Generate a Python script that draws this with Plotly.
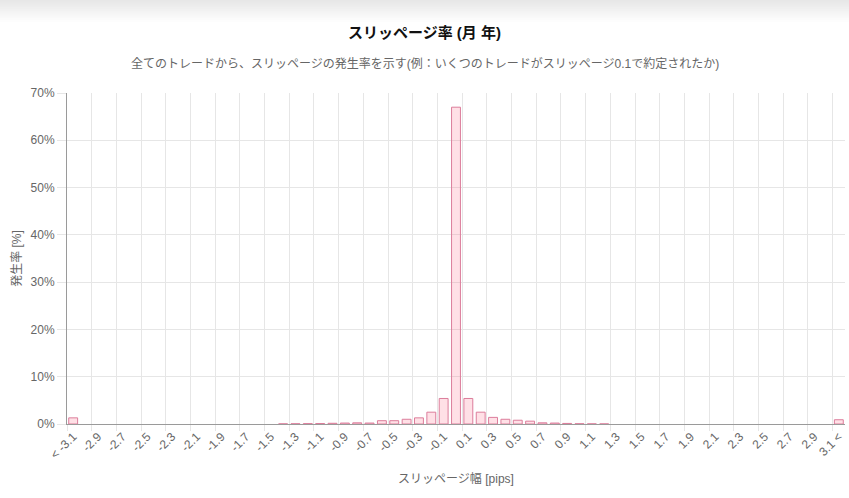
import plotly.graph_objects as go

# カテゴリ（スリッページ幅）
labels = [
    "< -3.1", "-3", "-2.9", "-2.8", "-2.7", "-2.6", "-2.5", "-2.4", "-2.3", "-2.2",
    "-2.1", "-2", "-1.9", "-1.8", "-1.7", "-1.6", "-1.5", "-1.4", "-1.3", "-1.2",
    "-1.1", "-1", "-0.9", "-0.8", "-0.7", "-0.6", "-0.5", "-0.4", "-0.3", "-0.2",
    "-0.1", "0", "0.1", "0.2", "0.3", "0.4", "0.5", "0.6", "0.7", "0.8",
    "0.9", "1", "1.1", "1.2", "1.3", "1.4", "1.5", "1.6", "1.7", "1.8",
    "1.9", "2", "2.1", "2.2", "2.3", "2.4", "2.5", "2.6", "2.7", "2.8",
    "2.9", "3", "3.1 <",
]

# 発生率 [%]
rates = [
    1.3, 0, 0, 0, 0, 0, 0, 0, 0, 0,
    0, 0, 0, 0, 0, 0, 0, 0.03, 0.05, 0.08,
    0.1, 0.15, 0.2, 0.25, 0.2, 0.7, 0.7, 1.0, 1.3, 2.5,
    5.4, 67.0, 5.4, 2.5, 1.4, 1.0, 0.8, 0.6, 0.25, 0.2,
    0.12, 0.06, 0.03, 0.02, 0, 0, 0, 0, 0, 0,
    0, 0, 0, 0, 0, 0, 0, 0, 0, 0,
    0, 0, 0.9,
]

y_ticks = [0, 10, 20, 30, 40, 50, 60, 70]
y_ticktext = [f"{v}%" for v in y_ticks]

W, H = 849, 498
M_L, M_R, M_T, M_B = 67, 4, 93, 74
FONT = "Liberation Sans, Noto Sans CJK JP"
GRID = "#e6e6e6"
TXT = "#666666"

x = list(range(len(labels)))
shown = x[::2]

# 0%のバーは枠線も描かない
fig = go.Figure(go.Bar(
    x=x,
    y=[v if v else None for v in rates],
    marker=dict(color="rgba(255,99,132,0.2)",
                line=dict(color="rgb(220,125,155)", width=1)),
    hoverinfo="skip",
))

# ピクセル -> paper座標
plot_h = H - M_T - M_B
plot_w = W - M_L - M_R
def py(px):
    return 1 + (M_T - px) / plot_h
def pxx(px):
    return (px - M_L) / plot_w

# 上部の薄いグラデーション
shapes = []
bands = 12
for k in range(bands):
    shapes.append(dict(
        type="rect", xref="paper", yref="paper",
        x0=pxx(0), x1=pxx(W),
        y0=py(22 * (k + 1) / bands), y1=py(0),
        fillcolor="rgba(0,0,0,0.0075)", line_width=0, layer="below",
    ))

fig.update_layout(
    width=W, height=H,
    margin=dict(l=M_L, r=M_R, t=M_T, b=M_B),
    paper_bgcolor="white", plot_bgcolor="white",
    font=dict(family=FONT, size=12, color=TXT),
    showlegend=False,
    bargap=0.28,
    shapes=shapes,
    annotations=[
        dict(text="<b>スリッページ率 (月 年)</b>", xref="paper", yref="paper",
             x=pxx(W / 2), y=py(33), xanchor="center", yanchor="middle",
             showarrow=False, font=dict(size=15, color="#111111", family=FONT)),
        dict(text="全てのトレードから、スリッページの発生率を示す(例：いくつのトレードがスリッページ0.1で約定されたか)",
             xref="paper", yref="paper", x=pxx(W / 2), y=py(64),
             xanchor="center", yanchor="middle", showarrow=False,
             font=dict(size=12, color=TXT, family=FONT)),
    ],
    xaxis=dict(
        range=[-0.5, len(labels) - 0.5],
        tickmode="array", tickvals=shown, ticktext=[labels[i] for i in shown],
        tickangle=-45, ticks="", showgrid=False,
        showline=True, linecolor="#9a9a9a", linewidth=1,
        minor=dict(tickmode="linear", tick0=-0.5, dtick=2, showgrid=True,
                   gridcolor=GRID, gridwidth=1, ticks="outside",
                   ticklen=6, tickcolor=GRID),
        title=dict(text="スリッページ幅 [pips]", standoff=13,
                   font=dict(size=12, color=TXT)),
        tickfont=dict(size=12, color=TXT),
        zeroline=False, fixedrange=True,
    ),
    yaxis=dict(
        range=[0, 70], tickmode="array", tickvals=y_ticks, ticktext=y_ticktext,
        showgrid=True, gridcolor=GRID, gridwidth=1,
        ticks="outside", ticklen=9, tickcolor=GRID,
        showline=True, linecolor="#9a9a9a", linewidth=1,
        zeroline=False,
        title=dict(text="発生率 [%]", standoff=6, font=dict(size=12, color=TXT)),
        tickfont=dict(size=12, color=TXT),
        fixedrange=True,
    ),
)

fig.write_html("out.html", config={"displayModeBar": False},
               post_script="document.body.style.margin='0';")
